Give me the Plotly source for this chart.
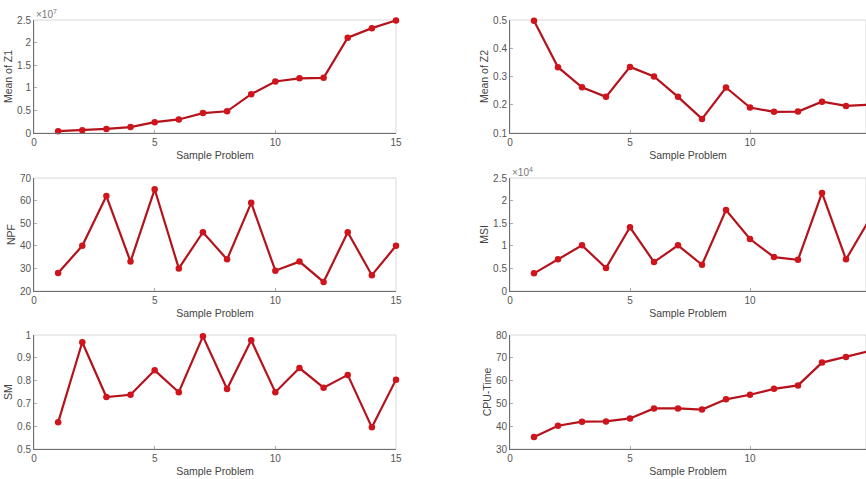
import plotly.graph_objects as go

problems = list(range(1, 16))
mean_z1 = [0.04e7, 0.06e7, 0.09e7, 0.13e7, 0.24e7, 0.30e7, 0.44e7, 0.48e7, 0.86e7, 1.14e7, 1.21e7, 1.22e7, 2.11e7, 2.32e7, 2.49e7]
mean_z2 = [0.497, 0.333, 0.262, 0.228, 0.334, 0.300, 0.228, 0.150, 0.261, 0.190, 0.175, 0.176, 0.211, 0.196, 0.200]
npf = [28, 40, 62, 33, 65, 30, 46, 34, 59, 29, 33, 24, 46, 27, 40]
msi = [0.39e4, 0.70e4, 1.01e4, 0.51e4, 1.41e4, 0.64e4, 1.01e4, 0.58e4, 1.79e4, 1.15e4, 0.75e4, 0.69e4, 2.17e4, 0.70e4, 1.60e4]
sm = [0.617, 0.968, 0.728, 0.738, 0.845, 0.749, 0.994, 0.763, 0.977, 0.749, 0.855, 0.769, 0.825, 0.595, 0.804]
cpu = [35.3, 40.2, 42.0, 42.1, 43.4, 47.8, 47.8, 47.3, 51.8, 53.8, 56.4, 57.9, 67.9, 70.4, 73.0]

W, H = 866, 479
left_dom = [34 / W, 396 / W]
right_dom = [510 / W, 1.0]
right_xmax = 15 * (W - 510) / (870 - 510)
rows = [[1 - 133 / H, 1 - 20 / H], [1 - 291 / H, 1 - 178 / H], [1 - 449 / H, 1 - 335 / H]]

panels = [
    dict(y=mean_z1, title="Mean of Z1", rng=[0, 2.5e7], tv=[0, 0.5e7, 1e7, 1.5e7, 2e7, 2.5e7],
         tt=["0", "0.5", "1", "1.5", "2", "2.5"], exp="7", col=0, row=0),
    dict(y=mean_z2, title="Mean of Z2", rng=[0.1, 0.5], tv=[0.1, 0.2, 0.3, 0.4, 0.5],
         tt=["0.1", "0.2", "0.3", "0.4", "0.5"], exp=None, col=1, row=0),
    dict(y=npf, title="NPF", rng=[20, 70], tv=[20, 30, 40, 50, 60, 70],
         tt=["20", "30", "40", "50", "60", "70"], exp=None, col=0, row=1),
    dict(y=msi, title="MSI", rng=[0, 2.5e4], tv=[0, 0.5e4, 1e4, 1.5e4, 2e4, 2.5e4],
         tt=["0", "0.5", "1", "1.5", "2", "2.5"], exp="4", col=1, row=1),
    dict(y=sm, title="SM", rng=[0.5, 1.0], tv=[0.5, 0.6, 0.7, 0.8, 0.9, 1.0],
         tt=["0.5", "0.6", "0.7", "0.8", "0.9", "1"], exp=None, col=0, row=2),
    dict(y=cpu, title="CPU-Time", rng=[30, 80], tv=[30, 40, 50, 60, 70, 80],
         tt=["30", "40", "50", "60", "70", "80"], exp=None, col=1, row=2),
]

FONT = "Liberation Sans, Arial, sans-serif"
fig = go.Figure()
layout = dict(width=W, height=H, margin=dict(l=0, r=0, t=0, b=0),
              paper_bgcolor="white", plot_bgcolor="white", showlegend=False,
              font=dict(family=FONT, size=10, color="#555"))
shapes = []
annotations = []

for i, p in enumerate(panels, start=1):
    xa = "x" if i == 1 else f"x{i}"
    ya = "y" if i == 1 else f"y{i}"
    fig.add_trace(go.Scatter(x=problems, y=p["y"], mode="lines+markers", xaxis=xa, yaxis=ya,
                             line=dict(color="#b5121b", width=2.2),
                             marker=dict(color="#d0141c", size=6.5), cliponaxis=False))
    xdom = left_dom if p["col"] == 0 else right_dom
    xmax = 15 if p["col"] == 0 else right_xmax
    layout[f"xaxis{'' if i == 1 else i}"] = dict(
        domain=xdom, range=[0, xmax], anchor=ya, tickvals=[0, 5, 10, 15],
        showline=True, linecolor="#6e6e6e", linewidth=1, ticks="inside", ticklen=3,
        tickcolor="#aaa", showgrid=False, zeroline=False, automargin=False,
        tickfont=dict(size=10, color="#555"),
        title=dict(text="Sample Problem", font=dict(size=10.5, color="#444"), standoff=4))
    layout[f"yaxis{'' if i == 1 else i}"] = dict(
        domain=rows[p["row"]], range=p["rng"], anchor=xa, tickvals=p["tv"], ticktext=p["tt"],
        showline=True, linecolor="#6e6e6e", linewidth=1, ticks="inside", ticklen=3,
        tickcolor="#aaa", showgrid=False, zeroline=False, automargin=False,
        tickfont=dict(size=10, color="#555"),
        title=dict(text=p["title"], font=dict(size=10.5, color="#444"), standoff=2))
    shapes.append(dict(type="rect", xref=f"{xa} domain", yref=f"{ya} domain",
                       x0=0, x1=1, y0=0, y1=1, line=dict(color="#d8d8d8", width=1), layer="below"))
    if p["exp"]:
        annotations.append(dict(xref=f"{xa} domain", yref=f"{ya} domain", x=0, y=1,
                                xanchor="left", yanchor="bottom", showarrow=False,
                                text=f"×10<sup>{p['exp']}</sup>",
                                font=dict(size=10, color="#777"), xshift=0, yshift=-2))

layout["shapes"] = shapes
layout["annotations"] = annotations
fig.update_layout(**layout)
fig.write_html("out.html", config={"displayModeBar": False},
               post_script="document.body.style.margin='0';document.body.style.overflow='hidden';")
